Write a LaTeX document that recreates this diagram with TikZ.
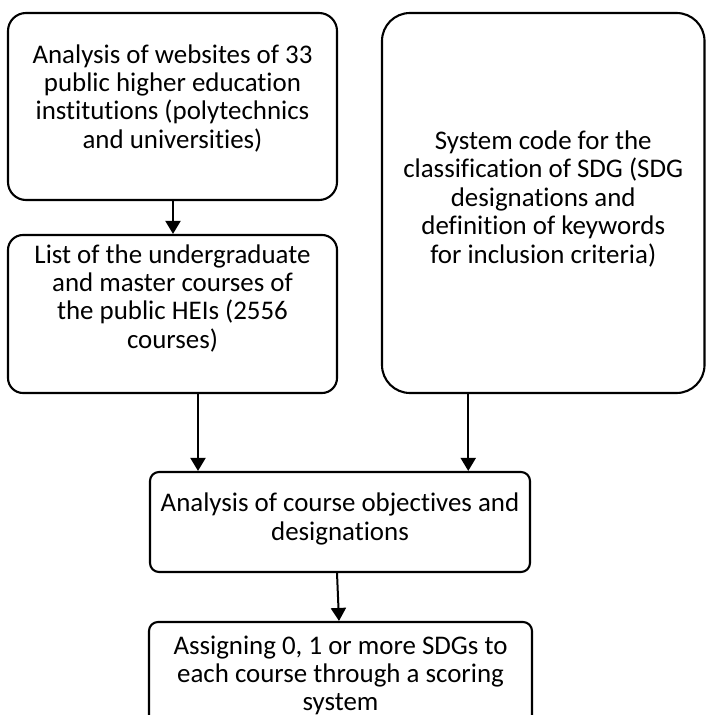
\documentclass[tikz,border=0pt]{standalone}
\usepackage{fontspec}
\setmainfont{Carlito}[Ligatures={NoCommon}]
\usetikzlibrary{arrows.meta}
\tikzset{
  box/.style={draw, line width=2.1bp, fill=white, inner sep=0pt, align=center,
    font=\fontsize{27}{28.5}\selectfont},
  arr/.style={line width=2bp, -{Triangle[length=13bp,width=15bp]}}
}
\newcommand{\boxtxt}[3]{\raisebox{#1}[0pt][0pt]{\parbox{#2}{\centering #3}}}
\begin{document}
\begin{tikzpicture}[x=1bp,y=-1bp]
\useasboundingbox (0,0) rectangle (706,715);
\begin{scope}
\clip (0,0) rectangle (706,715);
\node[box, rounded corners=18bp, minimum width=329bp, minimum height=187bp] (b1) at (172.5,106.5)
  {\boxtxt{2bp}{320bp}{Analysis of websites of 33\\public higher education\\institutions (polytechnics\\and universities)}};
\node[box, rounded corners=15bp, minimum width=329bp, minimum height=158bp] (b2) at (172.5,314)
  {\boxtxt{9.5bp}{320bp}{List of the undergraduate\\and master courses of\\the public HEIs (2556\\courses)}};
\node[box, rounded corners=28bp, minimum width=322.5bp, minimum height=380bp] (b3) at (543.25,203)
  {\boxtxt{-2bp}{315bp}{System code for the\\classification of SDG (SDG\\designations and\\definition of keywords\\for inclusion criteria)}};
\node[box, rounded corners=9bp, minimum width=380bp, minimum height=100bp] (b4) at (340,522)
  {\boxtxt{-3bp}{370bp}{Analysis of course objectives and\\designations}};
\node[box, rounded corners=9bp, minimum width=383bp, minimum height=116bp] (b5) at (340.5,680)
  {\boxtxt{-1.5bp}{375bp}{Assigning 0, 1 or more SDGs to\\each course through a scoring\\system}};
\end{scope}
\draw[arr] ([xshift=0.5bp]b1.south) -- ([xshift=0.5bp]b2.north);
\draw[arr] ([xshift=25.5bp]b2.south) -- ([xshift=25.5bp]b2.south |- b4.north);
\draw[arr] ([xshift=-75bp]b3.south) -- ([xshift=-75bp]b3.south |- b4.north);
\draw[arr] ([xshift=-3bp]b4.south) -- ([xshift=-1.5bp]b5.north);
\end{tikzpicture}
\end{document}
